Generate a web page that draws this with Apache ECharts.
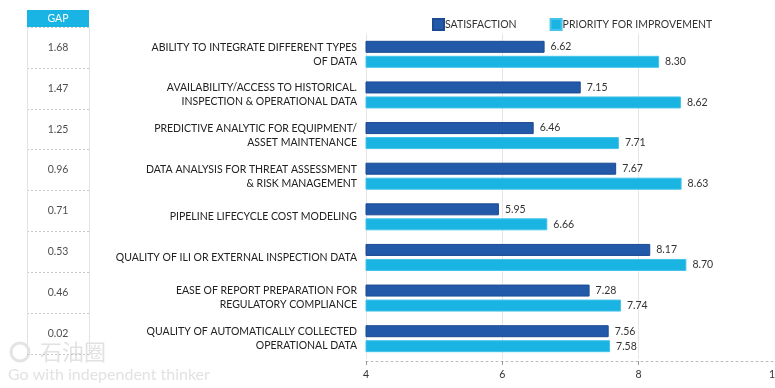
<!DOCTYPE html>
<html><head><meta charset="utf-8">
<script src="https://cdn.jsdelivr.net/npm/echarts@6/dist/echarts.min.js"></script>
<style>html,body{margin:0;padding:0;background:#fff}#c{width:775px;height:388px}</style>
</head><body><div id="c"></div>
<script>
const categories = [
  "ABILITY TO INTEGRATE DIFFERENT TYPES\nOF DATA",
  "AVAILABILITY/ACCESS TO HISTORICAL.\nINSPECTION & OPERATIONAL DATA",
  "PREDICTIVE ANALYTIC FOR EQUIPMENT/\nASSET MAINTENANCE",
  "DATA ANALYSIS FOR THREAT ASSESSMENT\n& RISK MANAGEMENT",
  "PIPELINE LIFECYCLE COST MODELING",
  "QUALITY OF ILI OR EXTERNAL INSPECTION DATA",
  "EASE OF REPORT PREPARATION FOR\nREGULATORY COMPLIANCE",
  "QUALITY OF AUTOMATICALLY COLLECTED\nOPERATIONAL DATA"
];
const satisfaction = [6.62, 7.15, 6.46, 7.67, 5.95, 8.17, 7.28, 7.56];
const priority = [8.30, 8.62, 7.71, 8.63, 6.66, 8.70, 7.74, 7.58];
const gap = [1.68, 1.47, 1.25, 0.96, 0.71, 0.53, 0.46, 0.02];
const seriesNames = ["SATISFACTION", "PRIORITY FOR IMPROVEMENT"];

const FONT = "Lato, 'Liberation Sans', sans-serif";
const FS = 10.5;
const chart = echarts.init(document.getElementById('c'), null, {renderer: 'canvas'});
chart.setOption({
  animation: false,
  textStyle: {fontFamily: FONT},
  legend: {
    data: seriesNames, left: 427, top: 13, itemWidth: 11, itemHeight: 11, itemGap: 33,
    icon: 'rect',
    textStyle: {fontSize: FS, color: '#333', padding: [0, 0, 0, -4], fontFamily: FONT}
  },
  graphic: [
    {type: 'rect', shape: {x: 27, y: 10, width: 62, height: 17}, style: {fill: '#1ab4e4'}},
    {type: 'text', x: 58, y: 18.5, style: {text: 'GAP', fill: '#fff', font: FS + 'px ' + FONT, align: 'center', verticalAlign: 'middle'}},
    {type: 'circle', shape: {cx: 20, cy: 352, r: 9}, style: {fill: 'none', stroke: '#e4e4e4', lineWidth: 3}},
    {type: 'text', x: 40, y: 341, style: {text: '石油圈', fill: '#e2e2e2', font: '22px "Noto Sans CJK SC"'}},
    {type: 'text', x: 8, y: 367, style: {text: 'Go with independent thinker', fill: '#e2e2e2', font: '16px Lato'}}
  ],
  grid: [
    {left: 366, right: 0, top: 34, bottom: 29, containLabel: false, outerBoundsMode: 'none'},
    {left: 27, width: 62, top: 27, height: 327, outerBoundsMode: 'none'}
  ],
  xAxis: [
    {
      gridIndex: 0, type: 'value', min: 4, max: 10, interval: 2, offset: 2,
      axisLine: {show: true, lineStyle: {color: '#bbb', type: [2, 3]}},
      axisTick: {show: true, length: 4, lineStyle: {color: '#999'}},
      axisLabel: {color: '#333', fontSize: FS, margin: 8, fontFamily: FONT},
      splitLine: {show: true, lineStyle: {color: '#e6e6e6'}}
    },
    {
      gridIndex: 1, type: 'value', min: 0, max: 1, interval: 1,
      axisLine: {show: false}, axisTick: {show: false}, axisLabel: {show: false},
      splitLine: {show: true, lineStyle: {color: '#e3e3e3'}}
    }
  ],
  yAxis: [
    {
      gridIndex: 0, type: 'category', data: categories, inverse: true,
      axisLine: {show: false}, axisTick: {show: false},
      axisLabel: {color: '#222', fontSize: FS, lineHeight: 14, margin: 9, align: 'right', fontFamily: FONT}
    },
    {
      gridIndex: 1, type: 'category', data: categories, inverse: true,
      axisLine: {show: false}, axisTick: {show: false}, axisLabel: {show: false},
      splitLine: {show: true, lineStyle: {color: '#c8c8c8', type: [2, 2]}}
    }
  ],
  series: [
    {
      name: seriesNames[0], type: 'bar', xAxisIndex: 0, yAxisIndex: 0, data: satisfaction,
      barWidth: 12, barGap: '25%',
      itemStyle: {color: '#2359a9', borderColor: '#1c4b93', borderWidth: 1},
      label: {show: true, position: 'right', distance: 6, color: '#333', fontSize: FS, fontFamily: FONT,
        formatter: p => p.value.toFixed(2)}
    },
    {
      name: seriesNames[1], type: 'bar', xAxisIndex: 0, yAxisIndex: 0, data: priority,
      barWidth: 12, barGap: '25%',
      itemStyle: {color: '#1ab4e3', borderColor: '#45c3ea', borderWidth: 1},
      label: {show: true, position: 'right', distance: 6, color: '#333', fontSize: FS, fontFamily: FONT,
        formatter: p => p.value.toFixed(2)}
    },
    {
      name: 'GAP', type: 'scatter', xAxisIndex: 1, yAxisIndex: 1, symbolSize: 0,
      data: gap.map((g, i) => [0.5, i, g]),
      label: {show: true, position: 'inside', color: '#222', fontSize: FS, fontFamily: FONT,
        formatter: p => p.value[2].toFixed(2)}
    }
  ]
});
</script></body></html>
